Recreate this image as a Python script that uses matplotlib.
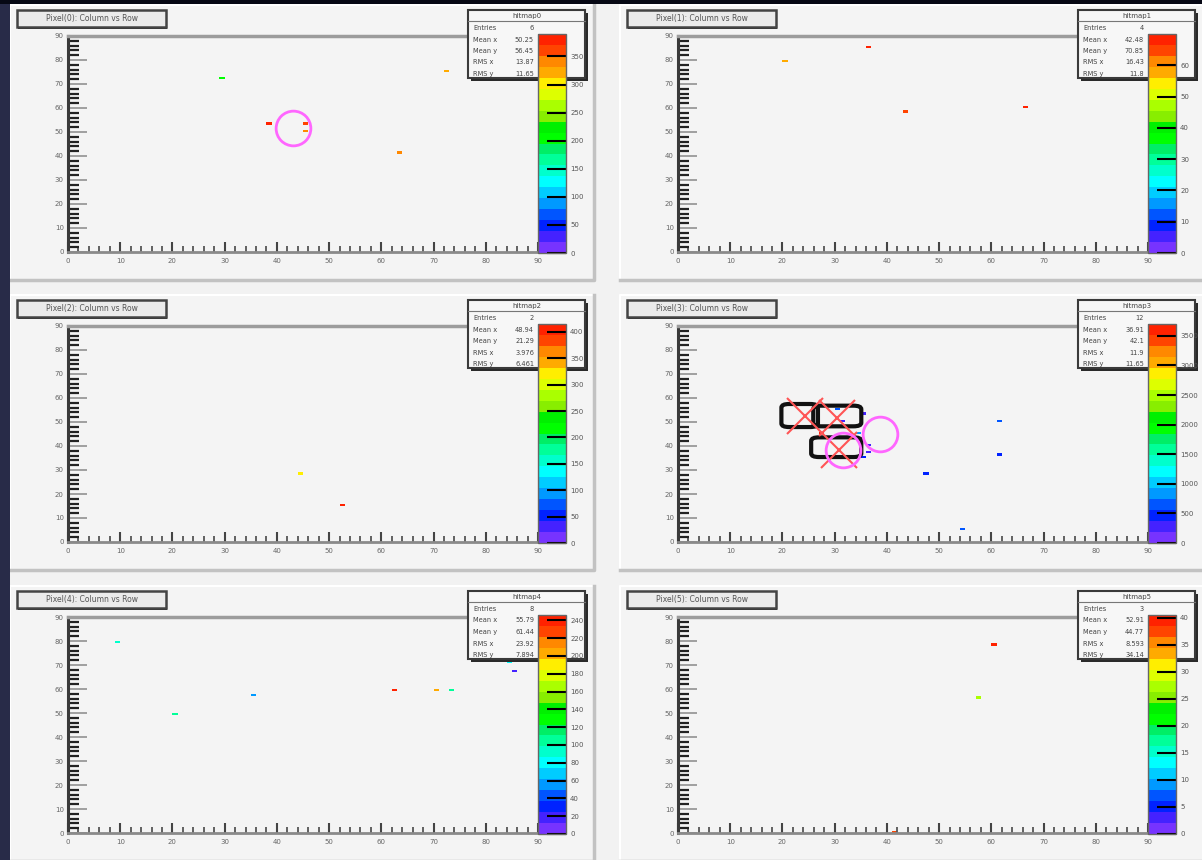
import matplotlib
matplotlib.use('Agg')
import matplotlib.pyplot as plt
import numpy as np
from matplotlib.colors import ListedColormap, Normalize
from matplotlib.patches import Rectangle, FancyBboxPatch
from matplotlib.lines import Line2D
from matplotlib.ticker import MultipleLocator

W, H = 1202, 860

# ---- data ----
titles = ['Pixel(0): Column vs Row', 'Pixel(1): Column vs Row', 'Pixel(2): Column vs Row',
          'Pixel(3): Column vs Row', 'Pixel(4): Column vs Row', 'Pixel(5): Column vs Row']
stat_titles = ['hitmap0', 'hitmap1', 'hitmap2', 'hitmap3', 'hitmap4', 'hitmap5']
stat_names = ['Entries', 'Mean x', 'Mean y', 'RMS x', 'RMS y']
n_bins = 90

z_max = [390, 70, 415, 3700, 246, 40.5]
z_step = [50, 10, 50, 500, 20, 5]

hit_cols = [
    [29, 38, 45, 45, 72, 63],
    [36, 20, 43, 66],
    [44, 52],
    [61, 61, 47, 54, 27, 30, 35, 34, 36, 36, 35, 31],
    [9, 20, 35, 62, 70, 73, 84, 85],
    [60, 57, 41],
]
hit_rows = [
    [72, 53, 53, 50, 75, 41],
    [85, 79, 58, 60],
    [28, 15],
    [50, 36, 28, 5, 45, 55, 53, 45, 40, 37, 35, 50],
    [79, 49, 57, 59, 59, 59, 71, 67],
    [78, 56, 0],
]
hit_vals = [
    [195, 385, 360, 345, 330, 345],
    [67, 58, 64, 67],
    [325, 405],
    [700, 400, 500, 600, 3600, 700, 300, 900, 350, 250, 450, 200],
    [90, 100, 60, 238, 200, 100, 75, 15],
    [39, 27.5, 37],
]

# overlay markers drawn on some pads
ring_x = [[43.1], [], [], [38.6, 31.6], [], []]
ring_y = [[51.7], [], [], [45.1, 38.5], [], []]
cross_x = [[], [], [], [24.3, 30.5, 30.8], [], []]
cross_y = [[], [], [], [52.6, 51.7, 38.5], [], []]
box_x = [[], [], [], [23.3, 30.5, 30.3], [], []]
box_y = [[], [], [], [52.7, 52.5, 39.5], [], []]
box_w = [[], [], [], [6.4, 8.6, 9.0], [], []]
box_h = [[], [], [], [9.0, 8.0, 7.6], [], []]

palette = ['#7733ff', '#4422ff', '#0022ff', '#0055ff', '#0099ff', '#00ccff', '#00ffff',
           '#00ffcc', '#00ff99', '#00ee66', '#00ff00', '#00f000', '#88ee00', '#aaff00',
           '#ddff00', '#ffee00', '#ffaa00', '#ff8800', '#ff4400', '#ff2200']
cmap = ListedColormap(palette)


def frect(x0, y0, x1, y1):
    return [x0 / W, 1 - y1 / H, (x1 - x0) / W, (y1 - y0) / H]


def fig_box(fig, x0, y0, x1, y1, **kw):
    r = Rectangle((x0 / W, 1 - y1 / H), (x1 - x0) / W, (y1 - y0) / H,
                  transform=fig.transFigure, **kw)
    fig.add_artist(r)
    return r


def fig_line(fig, xs, ys, **kw):
    fig.add_artist(Line2D([x / W for x in xs], [1 - y / H for y in ys],
                          transform=fig.transFigure, **kw))


fig = plt.figure(figsize=(W / 100, H / 100), dpi=100)
fig.patch.set_facecolor('#f2f2f2')

for i in range(6):
    dx = 610 * (i % 2)
    dy = [0, 290, 581][i // 2]

    # pad with bevel
    px0, py0, px1, py1 = 10 + dx, 5 + dy, 594 + dx, 280 + dy
    fig_box(fig, px0, py0, px1, py1, facecolor='#f4f4f4', edgecolor='none', zorder=-5)
    fig_line(fig, [px0, px0, px1], [py1, py0, py0], color='white', lw=1.5, zorder=-4)
    fig_line(fig, [px0, px1, px1], [py1, py1, py0], color='#c2c2c2', lw=2.5, zorder=-4)

    ax = fig.add_axes(frect(68 + dx, 36 + dy, 538 + dx, 252 + dy))
    ax.set_facecolor('#f4f4f4')

    z = np.zeros((n_bins, n_bins))
    for c, r, v in zip(hit_cols[i], hit_rows[i], hit_vals[i]):
        z[r, c] = v
    z = np.ma.masked_equal(z, 0)
    norm = Normalize(0, z_max[i])
    mesh = ax.pcolormesh(np.arange(n_bins + 1), np.arange(n_bins + 1), z, cmap=cmap, norm=norm)

    for bx, by, bw, bh in zip(box_x[i], box_y[i], box_w[i], box_h[i]):
        ax.add_patch(FancyBboxPatch((bx - bw / 2, by - bh / 2), bw, bh,
                                    boxstyle='round,pad=0.3,rounding_size=1.5',
                                    fc='none', ec='#111111', lw=3, zorder=4))
    if cross_x[i]:
        ax.plot(cross_x[i], cross_y[i], 'x', ms=26, mew=1.5, color='#ff5555', zorder=5)
    if ring_x[i]:
        ax.plot(ring_x[i], ring_y[i], 'o', ms=25, mfc='none', mec='#ff66ff', mew=2, zorder=5)

    ax.set_xlim(0, n_bins)
    ax.set_ylim(0, n_bins)
    ax.spines['right'].set_visible(False)
    ax.spines['left'].set_color('#3a3a3a')
    ax.spines['left'].set_linewidth(2.2)
    ax.spines['bottom'].set_color('#8a8a8a')
    ax.spines['bottom'].set_linewidth(2)
    ax.spines['top'].set_color('#9c9c9c')
    ax.spines['top'].set_linewidth(2.5)
    for a in (ax.xaxis, ax.yaxis):
        a.set_major_locator(MultipleLocator(10))
        a.set_minor_locator(MultipleLocator(2))
    ax.tick_params(axis='x', which='major', direction='in', length=7, width=1.5, color='#444',
                   labelsize=5, labelcolor='#666', pad=4)
    ax.tick_params(axis='x', which='minor', direction='in', length=4, width=1.3, color='#555')
    ax.tick_params(axis='y', which='major', direction='in', length=14, width=1.3, color='#999',
                   labelsize=5, labelcolor='#666', pad=3)
    ax.tick_params(axis='y', which='minor', direction='in', length=8, width=1.6, color='#222')

    # title box
    tx0, ty0, tx1, ty1 = 17 + dx, 10 + dy, 166 + dx, 27 + dy
    fig_box(fig, tx0 + 1, ty0 + 2, tx1 + 1, ty1 + 2, facecolor='#222222', edgecolor='none', zorder=1)
    fig_box(fig, tx0, ty0, tx1, ty1, facecolor='#ebebeb', edgecolor='#444444', lw=1.8, zorder=1.1)
    fig.text((tx0 + tx1) / 2 / W, 1 - (ty0 + ty1) / 2 / H, titles[i], ha='center', va='center',
             fontsize=5.5, color='#555555', zorder=1.2)

    # stats box
    sx0, sy0, sx1, sy1 = 468 + dx, 10 + dy, 585 + dx, 78 + dy
    fig_box(fig, sx0 + 3, sy0 + 3, sx1 + 3, sy1 + 3, facecolor='#2a2a2a', edgecolor='none', zorder=1)
    fig_box(fig, sx0, sy0, sx1, sy1, facecolor='#f7f7f7', edgecolor='#3a3a3a', lw=1.5, zorder=1.1)
    fig_line(fig, [sx0, sx1], [sy0 + 11, sy0 + 11], color='#777777', lw=0.8, zorder=1.2)
    fig.text((sx0 + sx1) / 2 / W, 1 - (sy0 + 6) / H, stat_titles[i], ha='center', va='center',
             fontsize=5, color='#444444', zorder=1.3)
    w = np.array(hit_vals[i], float)
    xc = np.array(hit_cols[i]) + 0.5
    yc = np.array(hit_rows[i]) + 0.5
    mx = np.average(xc, weights=w)
    my = np.average(yc, weights=w)
    values = [str(len(w)), '%.4g' % mx, '%.4g' % my,
              '%.4g' % np.sqrt(np.average((xc - mx) ** 2, weights=w)),
              '%.4g' % np.sqrt(np.average((yc - my) ** 2, weights=w))]
    for k, (nm, val) in enumerate(zip(stat_names, values)):
        yy = 1 - (sy0 + 18 + k * 11.5) / H
        fig.text((sx0 + 5) / W, yy, nm, ha='left', va='center', fontsize=4.8, color='#444444', zorder=1.3)
        fig.text((sx0 + 66) / W, yy, val, ha='right', va='center', fontsize=4.8, color='#444444', zorder=1.3)

    # palette
    cax = fig.add_axes(frect(538 + dx, 34 + dy, 566 + dx, 253 + dy))
    cax.set_zorder(2)
    cb = fig.colorbar(mesh, cax=cax)
    cb.set_ticks(np.arange(0, z_max[i], z_step[i]))
    cb.outline.set_edgecolor('#666666')
    cb.outline.set_linewidth(1)
    cax.tick_params(direction='in', length=14, width=1.5, color='black',
                    labelsize=5, labelcolor='#555555', pad=3)

# dark strips at the screen edge
fig_box(fig, 0, 0, 10, H, facecolor='#282b48', edgecolor='none', zorder=10)
fig_box(fig, 0, 0, W, 4, facecolor='#060814', edgecolor='none', zorder=10)

fig.savefig('out.png', dpi=100, facecolor=fig.get_facecolor())
